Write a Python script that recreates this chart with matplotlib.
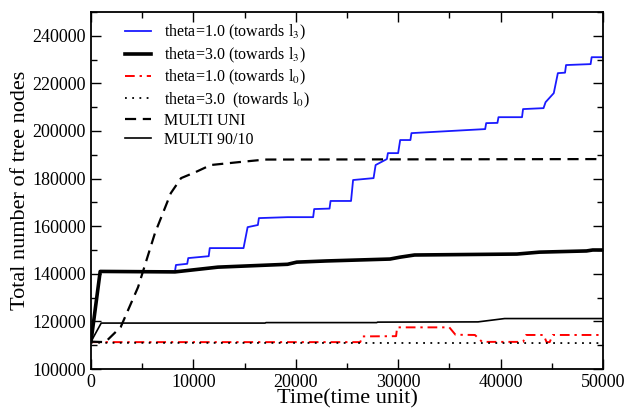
import numpy as np
import matplotlib
matplotlib.use("Agg")
import matplotlib.pyplot as plt
from matplotlib.ticker import MultipleLocator

plt.rcParams['font.family'] = 'Liberation Serif'
plt.rcParams['mathtext.fontset'] = 'stix'

# theta=1.0 towards l3 (blue)
t_blue = [0, 900, 8200, 8300, 9400, 9500, 11500, 11600, 14900, 15300, 16300, 16400,
          19200, 21700, 21800, 23300, 23400, 25400, 25600, 27600, 27800, 28900, 29000,
          30000, 30200, 31200, 31300, 38500, 38600, 39700, 39800, 42100, 42200, 44200,
          44400, 45200, 45600, 46300, 46400, 48800, 48900, 50000]
v_blue = [111500, 141000, 141000, 143700, 144200, 146600, 147400, 150800, 150800, 159600, 160500, 163400,
          163800, 163800, 167200, 167400, 170600, 170600, 179400, 180200, 185700, 188200, 190700,
          190700, 196200, 196200, 199100, 200800, 203300, 203400, 205800, 205800, 209200, 209600,
          212100, 215900, 224300, 224500, 227700, 228100, 231000, 231000]

# theta=3.0 towards l3 (thick black)
t_thick = [0, 900, 8200, 12400, 19200, 20100, 23000, 29200, 30200, 31600, 41600, 43800, 48400, 49000, 50000]
v_thick = [111500, 141000, 140800, 142800, 144000, 144900, 145400, 146200, 147000, 147900, 148300, 149100, 149600, 150000, 150000]

# theta=1.0 towards l0 (red dash-dot)
t_red = [0, 26300, 26500, 29800, 29900, 35000, 35600, 37500, 38200, 42200, 42500, 44200, 44500, 44800, 45100, 50000]
v_red = [111300, 111300, 113700, 113800, 117500, 117500, 114400, 114300, 111400, 111400, 114300, 114300, 111300, 111300, 114300, 114300]

# theta=3.0 towards l0 (dotted)
t_dot = [0, 1000, 50000]
v_dot = [111300, 111000, 110900]

# MULTI UNI (dashed)
t_uni = [0, 1400, 2900, 4600, 6250, 7800, 8800, 10200, 11700, 14400, 17000, 50000]
v_uni = [111500, 111300, 117600, 134400, 157100, 173900, 180200, 182700, 185700, 186900, 188000, 188200]

# MULTI 90/10 (thin black)
t_9010 = [0, 1000, 17000, 17100, 27900, 28000, 37800, 40400, 50000]
v_9010 = [111500, 119300, 119300, 119500, 119500, 119700, 119800, 121200, 121200]

fig = plt.figure(figsize=(6.3, 4.13), dpi=100)
ax = fig.add_axes([0.1444, 0.1065, 0.8126, 0.8645])

ax.plot(t_blue, v_blue, color='#1a1aff', lw=1.3, label='theta=1.0 (towards l$_3$)')
ax.plot(t_thick, v_thick, color='black', lw=2.6, label='theta=3.0 (towards l$_3$)')
ax.plot(t_red, v_red, color='red', lw=1.4, dashes=(5, 2.5, 1.2, 2.5), label='theta=1.0 (towards l$_0$)')
ax.plot(t_dot, v_dot, color='black', lw=1.3, dashes=(1, 3), label='theta=3.0  (towards l$_0$)')
ax.plot(t_uni, v_uni, color='black', lw=1.6, dashes=(5, 3), label='MULTI UNI')
ax.plot(t_9010, v_9010, color='black', lw=1.2, label='MULTI 90/10')

ax.set_xlim(0, 50000)
ax.set_ylim(100000, 250000)
ax.xaxis.set_major_locator(MultipleLocator(10000))
ax.xaxis.set_minor_locator(MultipleLocator(5000))
ax.yaxis.set_major_locator(MultipleLocator(20000))
ax.yaxis.set_minor_locator(MultipleLocator(10000))
ax.tick_params(which='both', direction='in', top=True, right=True, labelsize=13, width=1)
ax.tick_params(which='major', length=7)
ax.tick_params(which='minor', length=4)
for s in ax.spines.values():
    s.set_linewidth(1.3)

ax.set_xlabel('Time(time unit)', fontsize=16, labelpad=-1)
ax.set_ylabel('Total number of tree nodes', fontsize=16, labelpad=2)

ax.legend(loc='upper left', frameon=False, fontsize=11.5, handlelength=1.6,
          labelspacing=0.2, borderaxespad=0.3, bbox_to_anchor=(0.045, 1.0))

fig.savefig('out.png', dpi=100)
